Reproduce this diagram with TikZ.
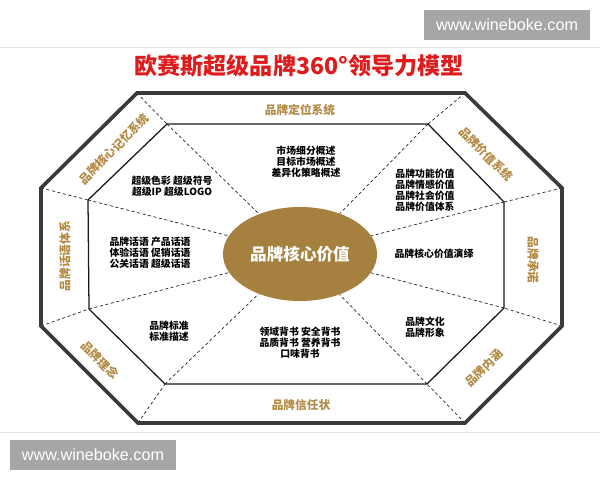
\documentclass[tikz,border=0pt]{standalone}
\usepackage{fontspec}
\setmainfont{Noto Sans CJK SC}
\newfontfamily\wmfont{Liberation Sans}
\usetikzlibrary{shapes.geometric}
\definecolor{gold}{RGB}{178,138,68}
\definecolor{coregold}{RGB}{166,128,62}
\definecolor{titlered}{RGB}{222,28,30}
\definecolor{rim}{RGB}{58,58,58}
\tikzset{
  bandlabel/.style={text=gold,inner sep=0pt,font=\fontsize{8.3}{9}\selectfont\bfseries},
  cell/.style={align=center,inner sep=0pt,font=\fontsize{7}{7.9}\selectfont\bfseries},
  spoke/.style={dash pattern=on 2.2pt off 1.8pt,line width=0.5pt,black!85},
  watermark/.style={fill=black!35,text=white,inner sep=0pt,minimum width=4.15cm,minimum height=0.73cm,font=\wmfont\fontsize{11.5}{12}\selectfont}
}
\begin{document}
\begin{tikzpicture}[x=0.025cm,y=-0.025cm]
\useasboundingbox[fill=white] (0,0) rectangle (600,480);
\draw[black!12] (0,47)--(600,47);
\draw[black!12] (0,432)--(600,432);

% title
\node[text=titlered,font=\fontsize{16.4}{18}\selectfont\bfseries] (title) at (299,66) {欧赛斯超级品牌360°领导力模型};

% outer and inner corners
\coordinate (o1) at (137,93);  \coordinate (o2) at (465,93);
\coordinate (o3) at (562,188); \coordinate (o4) at (562,326);
\coordinate (o5) at (465,423); \coordinate (o6) at (138,423);
\coordinate (o7) at (41,326);  \coordinate (o8) at (41,188);
\coordinate (i1) at (167,124); \coordinate (i2) at (428,124);
\coordinate (i3) at (504,202); \coordinate (i4) at (504,308);
\coordinate (i5) at (427,384); \coordinate (i6) at (165,384);
\coordinate (i7) at (89,309);  \coordinate (i8) at (88,200);

\node[ellipse,fill=coregold,minimum width=3.4cm,minimum height=2.35cm,text=white,font=\fontsize{11.8}{13}\selectfont\bfseries] (core) at (300,254) {品牌核心价值};

\foreach \k in {1,...,8}{
  \draw[spoke] (o\k) -- (i\k);
  \draw[spoke] (i\k) -- (core);
}
\draw[rim,line width=2.6pt] (o1)--(o2)--(o3)--(o4)--(o5)--(o6)--(o7)--(o8)--cycle;
\draw[black!90,line width=0.9pt] (i1)--(i2)--(i3)--(i4)--(i5)--(i6)--(i7)--(i8)--cycle;

% band labels
\node[bandlabel] (b1) at (300,110) {品牌定位系统};
\node[bandlabel,rotate=-45] (b2) at (486,154) {品牌价值系统};
\node[bandlabel,rotate=-90] (b3) at (533,260) {品牌承诺};
\node[bandlabel,rotate=45] (b4) at (484,368) {品牌内涵};
\node[bandlabel] (b5) at (301,405) {品牌信任状};
\node[bandlabel,rotate=-45] (b6) at (100,360) {品牌理念};
\node[bandlabel,rotate=90] (b7) at (65,256) {品牌话语体系};
\node[bandlabel,rotate=45] (b8) at (114,149) {品牌核心记忆系统};

% cells
\node[cell] (c1) at (306,162) {市场细分概述\\目标市场概述\\差异化策略概述};
\node[cell] (c2) at (425,190) {品牌功能价值\\品牌情感价值\\品牌社会价值\\品牌价值体系};
\node[cell] (c3) at (434,254) {品牌核心价值演绎};
\node[cell] (c4) at (425,327) {品牌文化\\品牌形象};
\node[cell] (c5) at (300,343) {领域背书 安全背书\\品质背书 营养背书\\口味背书};
\node[cell] (c6) at (169,331) {品牌标准\\标准描述};
\node[cell] (c7) at (150,253) {品牌话语 产品话语\\体验话语 促销话语\\公关话语 超级话语};
\node[cell] (c8) at (172,186) {超级色彩 超级符号\\超级IP 超级LOGO};

% watermarks
\node[watermark] (wm1) at (507,25) {www.wineboke.com};
\node[watermark] (wm2) at (93,455) {www.wineboke.com};
\end{tikzpicture}
\end{document}
